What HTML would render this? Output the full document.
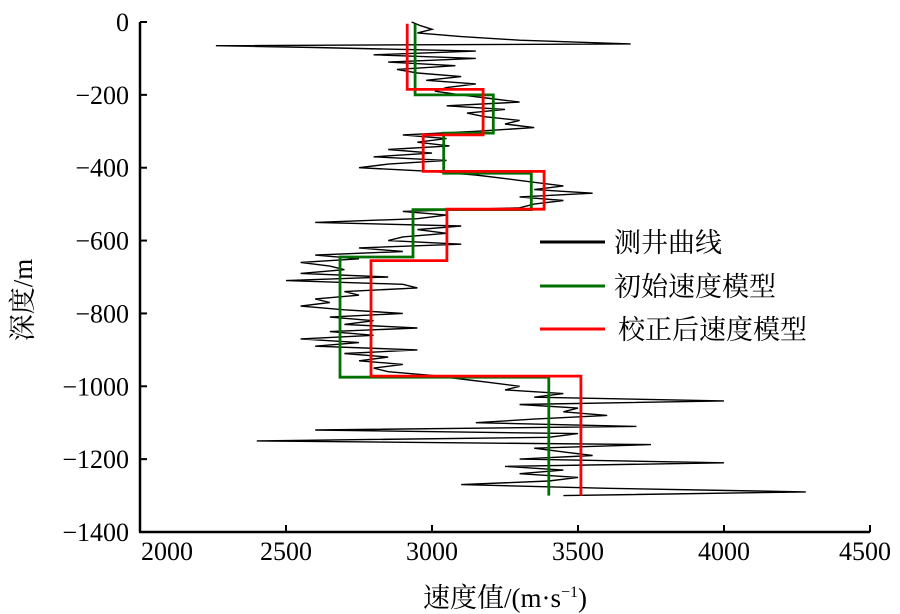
<!DOCTYPE html>
<html><head><meta charset="utf-8"><style>
html,body{margin:0;padding:0;background:#fff;}
svg{display:block;}
text{font-family:"Liberation Serif","Noto Serif CJK SC","Noto Sans CJK SC",serif;fill:#000;}
</style></head><body>
<svg id="chart" width="900" height="614" xmlns="http://www.w3.org/2000/svg">
<g id="plot"></g>
<g id="axes"></g>
<g>
  <line x1="540" y1="242" x2="605" y2="242" stroke="#000" stroke-width="3"/>
  <text x="614" y="252" font-size="27">测井曲线</text>
  <line x1="540" y1="286" x2="605" y2="286" stroke="#007000" stroke-width="3"/>
  <text x="614" y="296" font-size="27">初始速度模型</text>
  <line x1="540" y1="329" x2="605" y2="329" stroke="#ff0000" stroke-width="3"/>
  <text x="618" y="339" font-size="27">校正后速度模型</text>
</g>
<text x="505" y="607" font-size="27" text-anchor="middle">速度值/(m·s<tspan dy="-10" font-size="16">−1</tspan><tspan dy="10">)</tspan></text>
<text transform="translate(32,300) rotate(-90)" font-size="27" text-anchor="middle">深度/m</text>
</svg>
<script>
const xTicks = [2000, 2500, 3000, 3500, 4000, 4500];
const yTicks = [0, -200, -400, -600, -800, -1000, -1200, -1400];
const logDepths = [0,10,20,30,40,50,60,65,70,80,90,100,110,120,130,140,150,160,170,180,190,200,210,220,230,240,250,260,270,280,290,300,310,320,330,340,350,360,370,380,390,400,410,420,430,440,450,460,470,480,490,500,510,520,530,540,550,560,570,580,590,600,610,620,630,640,650,660,670,680,690,700,710,720,730,740,750,760,770,780,790,800,810,820,830,840,850,860,870,880,890,900,910,920,930,940,950,960,970,980,990,1000,1010,1020,1030,1040,1050,1060,1070,1080,1090,1100,1110,1120,1130,1140,1150,1160,1170,1180,1190,1200,1210,1220,1230,1240,1250,1260,1270,1280,1290,1300];
const logVel = [2930,2960,3000,2950,3100,3300,3680,2260,2600,3150,2800,3150,2850,3080,2880,2950,3100,2980,3150,3050,3010,3100,3200,3300,3050,3250,3120,3180,3300,3250,3350,3150,2900,3050,2950,3060,2850,3000,2800,3050,2850,2750,3000,3150,3250,3350,3450,3350,3550,3300,3450,3350,3300,2900,3050,2950,2600,3100,2950,3050,2900,2850,3100,2750,2900,2600,2750,2550,2650,2700,2550,2850,2500,2900,2950,2700,2750,2600,2650,2550,2700,2900,2650,2800,2700,2950,2650,2800,2550,2750,2600,2950,2700,2850,2750,2900,2800,2850,3000,3100,3200,3300,3250,3450,3350,4000,3300,3500,3450,3600,3350,3150,3700,2600,3500,3400,2400,3750,3350,3450,3550,3300,4000,3250,3450,3300,3500,3400,3100,3600,4280,3450];
const initTops = [5, 200, 305, 415, 515, 645, 975];
const initBottoms = [200, 305, 415, 515, 645, 975, 1300];
const initVel = [2942, 3210, 3040, 3340, 2935, 2685, 3400];
const corrTops = [5, 185, 310, 410, 514, 655, 972];
const corrBottoms = [185, 310, 410, 514, 655, 972, 1300];
const corrVel = [2915, 3175, 2970, 3384, 3051, 2791, 3510];

const NS = 'http://www.w3.org/2000/svg';
const X0 = 140, X1 = 870, Y0 = 22, Y1 = 532;
function xs(v){ return X0 + (v - 2000) / 2500 * (X1 - X0); }
function ys(d){ return Y0 + d / 1400 * (Y1 - Y0); }
function mk(tag, attrs, parent){ const e = document.createElementNS(NS, tag); for (const k in attrs) e.setAttribute(k, attrs[k]); parent.appendChild(e); return e; }
const plot = document.getElementById('plot');
const axes = document.getElementById('axes');

let pts = logDepths.map((d,i) => xs(logVel[i]).toFixed(1) + ',' + ys(d).toFixed(1)).join(' ');
const log = mk('polyline', {points: pts, fill: 'none', stroke: '#000', 'stroke-width': 1.4}, plot);



function stepPath(tops, bottoms, vel){
  let d = '';
  for (let i = 0; i < vel.length; i++){
    d += (i === 0 ? 'M' : 'L') + xs(vel[i]).toFixed(1) + ',' + ys(tops[i]).toFixed(1);
    d += 'L' + xs(vel[i]).toFixed(1) + ',' + ys(bottoms[i]).toFixed(1);
  }
  return d;
}
const g = mk('path', {d: stepPath(initTops, initBottoms, initVel), fill: 'none', stroke: '#007000', 'stroke-width': 2.8}, plot);


const r = mk('path', {d: stepPath(corrTops, corrBottoms, corrVel), fill: 'none', stroke: '#ff0000', 'stroke-width': 2.8}, plot);



const ya = mk('line', {x1: X0, y1: Y0, x2: X0, y2: Y1, stroke: '#000', 'stroke-width': 2.5}, axes);


const xa = mk('line', {x1: X0 - 1, y1: Y1, x2: X1, y2: Y1, stroke: '#000', 'stroke-width': 2.5}, axes);



xTicks.forEach(v => {
  const t = mk('line', {x1: xs(v), y1: Y1, x2: xs(v), y2: Y1 - 7, stroke: '#000', 'stroke-width': 2}, axes);
  
  
  const lab = mk('text', {x: v === 2000 ? xs(v) + 27 : (v === 4500 ? xs(v) - 5 : xs(v)), y: 560, 'font-size': 26, 'text-anchor': 'middle'}, axes);
  lab.textContent = v;
  
  
});
yTicks.forEach(v => {
  const y = ys(-v);
  const t = mk('line', {x1: X0, y1: y, x2: X0 + 7, y2: y, stroke: '#000', 'stroke-width': 2}, axes);
  
  
  const lab = mk('text', {x: 129, y: y + 9, 'font-size': 26, 'text-anchor': 'end'}, axes);
  lab.textContent = v === 0 ? '0' : '−' + (-v);
  
  
});
</script>
</body></html>
